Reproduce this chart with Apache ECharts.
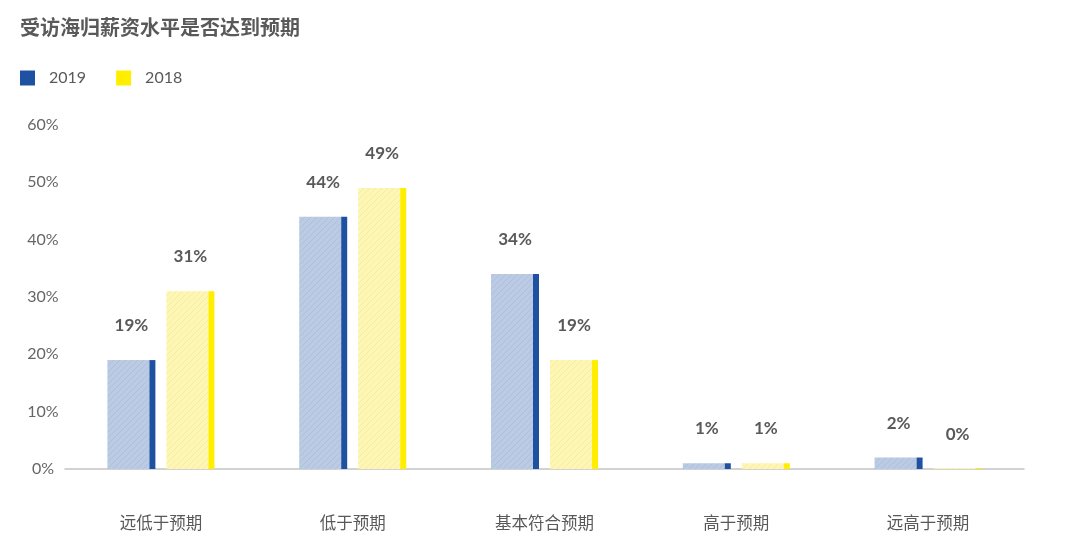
<!DOCTYPE html>
<html><head><meta charset="utf-8">
<script src="https://cdn.jsdelivr.net/npm/echarts@6/dist/echarts.min.js"></script>
<style>html,body{margin:0;padding:0;background:#fff}#c{width:1067px;height:551px}</style>
</head><body><div id="c"></div>
<script>
const title = '受访海归薪资水平是否达到预期';
const categories = ['远低于预期','低于预期','基本符合预期','高于预期','远高于预期'];
const seriesNames = ['2019','2018'];
const values2019 = [19,44,34,1,2];
const values2018 = [31,49,19,1,0];
const yTicks = [0,10,20,30,40,50,60];

const darkColors = ['#1f51a3','#ffee00'];
const lightColors = ['#bccbe4','#fdf6b4'];
const lineColors = ['#adbfdd','#f5eca0'];

function makePattern(bg, line){
  const s = 6;
  const cv = document.createElement('canvas');
  cv.width = s; cv.height = s;
  const ctx = cv.getContext('2d');
  ctx.fillStyle = bg; ctx.fillRect(0,0,s,s);
  ctx.strokeStyle = line; ctx.lineWidth = 1;
  ctx.beginPath();
  ctx.moveTo(0,s); ctx.lineTo(s,0);
  ctx.moveTo(-1,1); ctx.lineTo(1,-1);
  ctx.moveTo(s-1,s+1); ctx.lineTo(s+1,s-1);
  ctx.stroke();
  return cv;
}
const patterns = [makePattern(lightColors[0], lineColors[0]), makePattern(lightColors[1], lineColors[1])];

const BAR_W = 48, STRIPE_W = 6, GAP = 11;

function makeRender(si){
  return function(params, api){
    const cat = api.value(0), val = api.value(1);
    const top = api.coord([cat, val]);
    const base = api.coord([cat, 0]);
    const off = (si === 0 ? -1 : 1) * (BAR_W + GAP) / 2;
    const cx = top[0] + off;
    const x0 = cx - BAR_W / 2;
    const h = Math.max(base[1] - top[1], 1);
    const y0 = base[1] - h;
    return {
      type: 'group',
      children: [
        {type:'rect', shape:{x:x0, y:y0, width:BAR_W - STRIPE_W, height:h},
         style:{fill:{image: patterns[si], repeat:'repeat'}}},
        {type:'rect', shape:{x:x0 + BAR_W - STRIPE_W, y:y0, width:STRIPE_W, height:h},
         style:{fill: darkColors[si]}},
        {type:'text', x: cx, y: top[1] - 26,
         style:{text: val + '%', fill:'#595959', font:'bold 17px Lato, "Noto Sans CJK SC"',
                textAlign:'center', textVerticalAlign:'bottom'}}
      ]
    };
  };
}

const chart = echarts.init(document.getElementById('c'));
chart.setOption({
  animation:false,
  backgroundColor:'#fff',
  title:{text:title, left:20, top:17, padding:0,
    textStyle:{fontFamily:'"Noto Sans CJK SC"', fontSize:20, fontWeight:'bold', color:'#595959'}},
  legend:{data:seriesNames, left:20, top:70, padding:0, icon:'rect', itemWidth:15, itemHeight:15, itemGap:30,
    textStyle:{fontFamily:'Lato, "Noto Sans CJK SC"', fontSize:16, color:'#595959', padding:[0,0,0,9]}},
  grid:{left:65, right:43, top:125, bottom:82},
  xAxis:{type:'category', data:categories,
    axisLine:{lineStyle:{color:'#c4c4c4', width:1.5}}, axisTick:{show:false},
    axisLabel:{margin:45, fontFamily:'"Noto Sans CJK SC"', fontSize:16.5, color:'#595959'}},
  yAxis:{type:'value', min:yTicks[0], max:yTicks[yTicks.length-1], interval:10,
    splitLine:{show:false}, axisLine:{show:false}, axisTick:{show:false},
    axisLabel:{formatter:'{value}%', margin:22, align:'center', fontFamily:'Lato', fontSize:16, color:'#666'}},
  series:[
    {name:seriesNames[0], type:'custom', renderItem:makeRender(0), itemStyle:{color:darkColors[0]},
     data: values2019.map((v,i)=>[i,v]), encode:{x:0,y:1}},
    {name:seriesNames[1], type:'custom', renderItem:makeRender(1), itemStyle:{color:darkColors[1]},
     data: values2018.map((v,i)=>[i,v]), encode:{x:0,y:1}}
  ]
});
</script></body></html>
